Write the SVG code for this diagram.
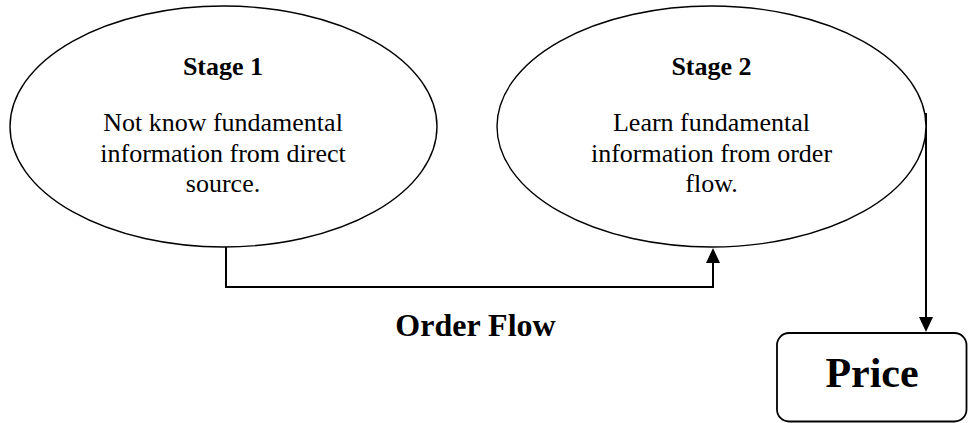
<svg xmlns="http://www.w3.org/2000/svg" width="968" height="423" viewBox="0 0 968 423">
<style>
.node{fill:#fff;stroke:#000;stroke-width:1.4}
.conn{fill:none;stroke:#000;stroke-width:2}
.head{fill:#000}
text{font-family:"Liberation Serif","Times New Roman",serif;fill:#000;text-anchor:middle}
.title{font-weight:bold;font-size:26px}
.body{font-size:26px}
</style>
<rect width="968" height="423" fill="#fff"/>
<g id="connectors">
<path class="conn" d="M226,247 V287 H713 V262"/>
<path class="head" d="M706,263 L713,248 L720,263 Z"/>
<path class="conn" d="M926,113 V318"/>
<path class="head" d="M919,317 L926,332 L933,317 Z"/>
<text x="475.5" y="336" style="font-weight:bold;font-size:32px">Order Flow</text>
</g>
<g id="stage1">
<ellipse class="node" cx="223.5" cy="126.5" rx="213.5" ry="120.5"/>
<text class="title" x="223" y="75">Stage 1</text>
<text class="body" x="223" y="131">Not know fundamental</text>
<text class="body" x="223" y="162">information from direct</text>
<text class="body" x="223" y="192">source.</text>
</g>
<g id="stage2">
<ellipse class="node" cx="711.5" cy="126.5" rx="214.5" ry="120.5"/>
<text class="title" x="711.5" y="75">Stage 2</text>
<text class="body" x="711.5" y="131">Learn fundamental</text>
<text class="body" x="711.5" y="162">information from order</text>
<text class="body" x="711.5" y="192">flow.</text>
</g>
<g id="price">
<rect class="node" x="777" y="333" width="189.5" height="88.5" rx="12" ry="12" style="stroke-width:1.8"/>
<text x="872" y="387" style="font-weight:bold;font-size:42px">Price</text>
</g>
</svg>
